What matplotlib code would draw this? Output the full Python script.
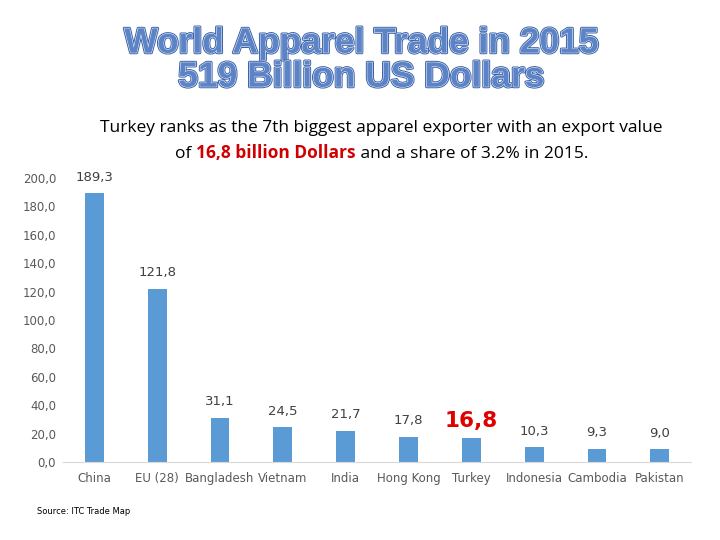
import matplotlib.pyplot as plt
import matplotlib.patheffects as pe
from matplotlib.offsetbox import TextArea, HPacker, AnchoredOffsetbox

countries = ["China", "EU (28)", "Bangladesh", "Vietnam", "India",
             "Hong Kong", "Turkey", "Indonesia", "Cambodia", "Pakistan"]
exports = [189.3, 121.8, 31.1, 24.5, 21.7, 17.8, 16.8, 10.3, 9.3, 9.0]
yticks = [0, 20, 40, 60, 80, 100, 120, 140, 160, 180, 200]
highlight = "Turkey"

bar_col = "#5B9BD5"
grey = "#595959"
red = "#E00000"

fig = plt.figure(figsize=(7.2, 5.4), dpi=100)
ax = fig.add_axes([0.0875, 0.1444, 0.8725, 0.5259])

x = range(len(countries))
ax.bar(x, exports, width=0.3, color=bar_col)
ax.set_xlim(-0.5, len(countries) - 0.5)
ax.set_ylim(0, 200)
ax.set_yticks(yticks)
ax.set_yticklabels([f"{v:.1f}".replace(".", ",") for v in yticks])
ax.set_xticks(list(x))
ax.set_xticklabels(countries)
ax.tick_params(axis="both", length=0, colors=grey, labelsize=8.5)
ax.tick_params(axis="y", pad=5)
ax.tick_params(axis="x", pad=7)
for s in ["top", "right", "left"]:
    ax.spines[s].set_visible(False)
ax.spines["bottom"].set_color("#D9D9D9")

for i, (c, v) in enumerate(zip(countries, exports)):
    lab = f"{v:.1f}".replace(".", ",")
    if c == highlight:
        ax.annotate(lab, (i, v), xytext=(0, 5), textcoords="offset points",
                    ha="center", va="bottom", fontsize=15.5, fontweight="bold",
                    color=red, annotation_clip=False)
    else:
        ax.annotate(lab, (i, v), xytext=(0, 7), textcoords="offset points",
                    ha="center", va="bottom", fontsize=9.5, color="#404040",
                    annotation_clip=False)

# outlined title
fx = [pe.Stroke(linewidth=2.2, foreground="#3A62A8"),
      pe.Stroke(linewidth=0.8, foreground="#E8EEF8"),
      pe.Normal()]
for txt, y in [("World Apparel Trade in 2015", 0.920),
               ("519 Billion US Dollars", 0.857)]:
    fig.text(0.502, y, txt, ha="center", va="center", fontsize=25.5,
             fontweight="bold", family="Liberation Sans", color="#5B83C6",
             path_effects=fx)

sub_font = dict(family="Open Sans", size=12.5)
fig.text(0.53, 0.763, "Turkey ranks as the 7th biggest apparel exporter with an export value",
         ha="center", va="center", color="black", **sub_font)
parts = HPacker(children=[
    TextArea("of ", textprops=dict(color="black", **sub_font)),
    TextArea("16,8 billion Dollars", textprops=dict(color="#D00000", weight="bold", **sub_font)),
    TextArea(" and a share of 3.2% in 2015.", textprops=dict(color="black", **sub_font)),
], align="baseline", pad=0, sep=0)
box = AnchoredOffsetbox(loc="center", child=parts, frameon=False, pad=0,
                        bbox_to_anchor=(0.53, 0.717), bbox_transform=fig.transFigure)
fig.add_artist(box)

fig.text(0.052, 0.052, "Source: ITC Trade Map", fontsize=6, color="black",
         ha="left", va="center")

fig.savefig("out.png", dpi=100)
